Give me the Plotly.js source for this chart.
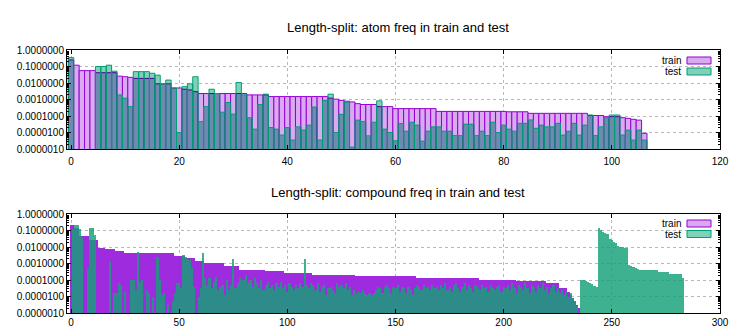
<!DOCTYPE html>
<html>
<head>
<meta charset="utf-8">
<script src="https://cdn.plot.ly/plotly-3.0.1.min.js"></script>
<style>
  html, body { margin: 0; padding: 0; background: #fff; }
  #chart { width: 734px; height: 329px; }
</style>
</head>
<body>
<div id="chart"></div>
<script>
// ---------- DATA ----------
const atomTitle = "Length-split: atom freq in train and test";
const compoundTitle = "Length-split: compound freq in train and test";
const seriesNames = ["train", "test"];
const atomXTicks = [0, 20, 40, 60, 80, 100, 120];
const compoundXTicks = [0, 50, 100, 150, 200, 250, 300];
const yTickValues = [1, 0.1, 0.01, 0.001, 0.0001, 0.00001, 0.000001];

const atomTrain = [
  0.25, 0.12, 0.056, 0.056, 0.056, 0.042, 0.042, 0.042, 0.042, 0.026,
  0.024, 0.022, 0.019, 0.019, 0.019, 0.019, 0.0089, 0.0089, 0.0089, 0.005,
  0.005, 0.0042, 0.0038, 0.003, 0.0023, 0.0023, 0.0023, 0.0023, 0.0023, 0.0023,
  0.0023, 0.0023, 0.0023, 0.0019, 0.0019, 0.0019, 0.0019, 0.0015, 0.0015, 0.0015,
  0.0015, 0.0015, 0.0015, 0.0015, 0.0015, 0.0015, 0.0015, 0.0015, 0.0012, 0.00105,
  0.00089, 0.00079, 0.00071, 0.00056, 0.0005, 0.0005, 0.0005, 0.00037, 0.00037, 0.00037,
  0.00028, 0.00028, 0.00028, 0.00028, 0.00028, 0.00028, 0.00028, 0.00028, 0.00019, 0.00019,
  0.00019, 0.00019, 0.00019, 0.00019, 0.00019, 0.00019, 0.00019, 0.00019, 0.00019, 0.00019,
  0.00019, 0.00018, 0.00018, 0.00018, 0.00018, 0.000145, 0.000145, 0.000145, 0.000145, 0.000145,
  0.000145, 0.000145, 0.000145, 0.000145, 0.000145, 0.000145, 0.000107, 0.000107, 0.000107, 0.000091,
  0.000091, 0.000091, 0.000079, 0.000072, 0.000063, 0.000056, 0.0000089
];

const atomTest = [
  0.35, null, null, null, null, 0.1, 0.1, 0.12, 0.052, 0.0019,
  0.0012, 0.00037, 0.049, 0.049, 0.049, 0.039, 0.03, 0.0089, 0.015, 0.005,
  0.00001, 0.006, 0.0089, 0.024, 0.000046, 0.00037, 0.0042, 0.0023, 0.00017, 0.00066,
  0.00013, 0.0107, 0.0019, 0.000079, 0.000016, 0.0005, 0.0021, 0.00002, 0.000016, 0.000007,
  0.00002, 0.0000035, 0.000022, 0.000014, 0.000028, 0.00035, 0.0000035, 0.00089, 0.0021, 0.00001,
  0.000126, 0.00068, 0.0000013, 0.000056, 0.000046, 0.0000063, 0.000042, 0.00083, 0.000016, 0.00001,
  0.0000032, 0.000035, 0.000012, 0.000042, 0.000028, 0.000003, 0.000012, 0.000022, 0.000022, 0.000012,
  0.000012, 0.0000065, 0.0000065, 0.000032, 0.000032, 0.0000065, 0.000012, 0.0000065, 0.000042, 0.00001,
  0.000028, 0.000016, 0.000012, 0.000036, 0.000036, 0.000058, 0.000018, 0.000028, 0.000022, 0.000022,
  0.000036, 0.000007, 0.000012, 0.000036, 0.000007, 0.000028, 0.000115, 0.0000065, 0.000022, 0.000079,
  0.000115, 0.000115, 0.000007, 0.000014, 0.0000035, 0.000014, 0.0000035
];

const compoundTrain = [
  0.22, 0.22, 0.14, 0.14, 0.045, 0.045, 0.045, 0.045, 0.045, 0.028,
  0.028, 0.028, 0.028, 0.0087, 0.0087, 0.0087, 0.0076, 0.0076, 0.0076, 0.0076,
  0.0076, 0.0055, 0.0055, 0.0055, 0.0055, 0.0044, 0.0044, 0.0044, 0.0044, 0.0044,
  0.0044, 0.0044, 0.0044, 0.0044, 0.0044, 0.0044, 0.0044, 0.0044, 0.0044, 0.0044,
  0.0044, 0.0044, 0.0044, 0.0044, 0.0044, 0.0044, 0.0044, 0.0044, 0.0027, 0.0027,
  0.0027, 0.0027, 0.0027, 0.0021, 0.0021, 0.0021, 0.0021, 0.0021, 0.00135, 0.00135,
  0.00135, 0.00135, 0.00107, 0.00107, 0.00107, 0.00107, 0.00107, 0.00107, 0.00107, 0.00107,
  0.00107, 0.00068, 0.00068, 0.00068, 0.00068, 0.00068, 0.00068, 0.00068, 0.00043, 0.00043,
  0.00043, 0.00043, 0.00043, 0.00043, 0.00043, 0.00043, 0.00043, 0.00043, 0.00043, 0.00043,
  0.00034, 0.00034, 0.00034, 0.00034, 0.00034, 0.00034, 0.00034, 0.00034, 0.00034, 0.00026,
  0.00026, 0.00026, 0.00026, 0.00026, 0.00026, 0.00026, 0.00026, 0.00026, 0.00026, 0.00026,
  0.00026, 0.00026, 0.00021, 0.00021, 0.00021, 0.00021, 0.00021, 0.00021, 0.00021, 0.00021,
  0.00021, 0.00021, 0.00021, 0.00021, 0.00021, 0.00021, 0.00021, 0.00021, 0.00021, 0.00021,
  0.00021, 0.00021, 0.000166, 0.000166, 0.000166, 0.000166, 0.000166, 0.000166, 0.000166, 0.000166,
  0.000166, 0.000166, 0.000166, 0.000166, 0.000166, 0.000166, 0.000166, 0.000166, 0.000166, 0.000166,
  0.000166, 0.000166, 0.000166, 0.000166, 0.000166, 0.000166, 0.000166, 0.000166, 0.000166, 0.000166,
  0.000132, 0.000132, 0.000132, 0.000132, 0.000132, 0.000132, 0.000132, 0.000132, 0.000132, 0.000132,
  0.000132, 0.000132, 0.000132, 0.000132, 0.000132, 0.000132, 0.000132, 0.000132, 0.000132, 0.000132,
  0.000132, 0.000132, 0.000132, 0.000132, 0.000132, 0.000132, 0.000132, 0.000132, 0.000132, 0.000105,
  0.000105, 0.000105, 0.000105, 0.000105, 0.000105, 0.000105, 0.000105, 0.000105, 0.000105, 0.000105,
  0.000105, 0.000105, 0.000105, 0.000105, 0.000105, 0.000105, 0.000089, 0.000089, 0.000089, 0.000089,
  0.000089, 0.000089, 0.000089, 0.000089, 0.000089, 0.000089, 0.000089, 0.000089, 0.000089, 0.000089,
  0.000063, 0.000063, 0.000063, 0.000063, 0.000063, 0.000063, 0.000035, 0.000035, 0.000035, 0.000035,
  0.00002, 0.0000126, 0.0000079, 0.000005, 0.0000032, 0.000002
];

const compoundTest = [
  null, 0.126, 0.22, 0.22, 0.126, 0.04, null, null, 0.0005, 0.14,
  0.14, 0.054, null, null, null, null, null, null, 0.00126, null,
  0.000016, 0.000016, 0.000063, 0.00005, null, 0.00002, null, null, 0.0001, 0.0001,
  0.000025, 0.0052, 0.000079, 0.0001, null, 0.000025, 0.000016, null, 0.00001, null,
  0.0025, 0.0001, 0.0000126, 0.000016, null, 0.0000032, null, 0.000005, 0.000016, 0.000063,
  0.000063, 0.000032, 0.0035, 0.0025, 0.002, 0.0016, 0.0005, 0.00004, null, 0.00001,
  0.000032, 0.0042, 0.000126, 0.00005, 0.000126, 0.000032, 0.000079, 0.00016, 0.000025, 0.00004,
  0.00005, 0.0000126, 0.0001, 0.000025, 0.00005, 0.002, 0.000032, 0.000063, 0.000126, 0.0001,
  0.0001, 0.0002, 0.000063, 0.0001, 0.00004, 0.000126, 0.000063, 0.000032, 0.0001, 0.000025,
  0.00005, 0.000079, 0.000032, 0.00005, 0.000025, 0.000063, 0.00004, 0.000079, 0.000032, 0.00005,
  0.00002, 0.000063, 0.00004, 0.000025, 0.00005, 0.000032, 0.000063, 0.00004, 0.002, 0.00005,
  0.000032, 0.000063, 0.00005, 0.000025, 0.000063, 0.00002, 0.00004, 0.00005, 0.0000126, 0.000032,
  0.00004, 0.000025, 0.000016, 0.000063, 0.00004, 0.00005, 0.000032, 0.000063, 0.000025, 0.00004,
  0.0000126, 0.000025, 0.000016, 0.00002, 0.000016, 0.000025, 0.000016, 0.0000126, 0.000016, 0.0000126,
  0.000016, 0.000025, 0.00004, 0.000032, 0.000016, 0.00004, 0.00005, 0.000032, 0.000016, 0.00004,
  0.000032, 0.00005, 0.00002, 0.00004, 0.000032, 0.000016, 0.00004, 0.000025, 0.0000126, 0.000032,
  0.00005, 0.00004, 0.000025, 0.00005, 0.000032, 0.00004, 0.000025, 0.00005, 0.000032, 0.00004,
  0.000025, 0.00005, 0.000032, 0.000063, 0.000025, 0.00004, 0.00002, 0.00005, 0.000063, 0.000032,
  0.00002, 0.00004, 0.000063, 0.000025, 0.00005, 0.000032, 0.00002, 0.00005, 0.00004, 0.000025,
  0.00005, 0.000032, 0.00004, 0.00002, 0.00005, 0.000032, 0.000025, 0.00004, 0.00005, 0.00002,
  0.00004, 0.000032, 0.00005, 0.000025, 0.000063, 0.000032, 0.000016, 0.00005, 0.00004, 0.000025,
  0.000063, 0.000032, 0.000016, 0.00005, 0.00004, 0.00002, 0.00005, 0.000032, 0.000063, 0.000025,
  0.00004, 0.000016, 0.000032, 0.00005, 0.00002, 0.000032, 0.000016, 0.000025, 0.0000126, 0.00002,
  0.00001, 0.000016, 0.0000079, 0.000005, 0.0000025, null, 0.0001, 0.0001, 0.000089, 0.000071,
  0.000063, 0.000056, 0.000045, 0.00004, 0.135, 0.105, 0.079, 0.071, 0.063, 0.032,
  0.028, 0.019, 0.018, 0.011, 0.0105, 0.01, 0.0089, 0.0083, 0.00079, 0.00071,
  0.00063, 0.00056, 0.00045, 0.00042, 0.00038, 0.00038, 0.00038, 0.00038, 0.00038, 0.00038,
  0.00038, 0.00038, 0.00032, 0.00032, 0.00032, 0.00032, 0.00032, 0.00022, 0.00022, 0.00022,
  0.00022, 0.00022, 0.00022, 0.000126
];

// ---------- CHART ----------
const idx = arr => arr.map((_, i) => i);
const FONT = "Liberation Sans, Arial, Helvetica, sans-serif";
const PURPLE = "#9400d3";
const GREEN = "#009e73";
const LILAC = "rgb(218,170,241)";
const MINT = "rgb(128,208,186)";

const traces = [
  // atom panel: train boxes
  { type: "bar", name: seriesNames[0], x: idx(atomTrain), y: atomTrain, xaxis: "x", yaxis: "y",
    marker: { color: LILAC, line: { color: PURPLE, width: 1 } }, hoverinfo: "skip" },
  // atom panel: test box fill (blended)
  { type: "bar", name: seriesNames[1], x: idx(atomTest), y: atomTest, xaxis: "x", yaxis: "y",
    marker: { color: MINT, line: { width: 0 } }, hoverinfo: "skip" },
  // atom panel: test box outline
  { type: "bar", name: seriesNames[1], x: idx(atomTest), y: atomTest, xaxis: "x", yaxis: "y",
    marker: { color: "rgba(0,0,0,0)", line: { color: GREEN, width: 1 } }, hoverinfo: "skip" },
  // compound panel
  { type: "bar", name: seriesNames[0], x: idx(compoundTrain), y: compoundTrain, xaxis: "x2", yaxis: "y2",
    marker: { color: "rgb(158,44,222)", line: { width: 0 } }, hoverinfo: "skip" },
  { type: "bar", name: seriesNames[1], x: idx(compoundTest), y: compoundTest, xaxis: "x2", yaxis: "y2",
    marker: { color: "rgba(20,160,120,0.82)", line: { width: 0 } }, hoverinfo: "skip" }
];

const commonX = {
  showline: true, linecolor: "#000", linewidth: 1, mirror: "ticks",
  ticks: "inside", ticklen: 4, tickcolor: "#000",
  showgrid: true, gridcolor: "#b8b8b8", griddash: "dot", gridwidth: 1,
  zeroline: false, tickfont: { family: FONT, size: 10, color: "#000" }
};
const commonY = {
  type: "log", range: [-6, 0], tickmode: "array", tickvals: yTickValues,
  ticktext: yTickValues.map(v => v.toFixed(7)),
  showline: true, linecolor: "#000", linewidth: 1, mirror: "ticks",
  ticks: "inside", ticklen: 4, tickcolor: "#000",
  showgrid: true, gridcolor: "#b8b8b8", griddash: "dot", gridwidth: 1,
  zeroline: false, tickfont: { family: FONT, size: 10, color: "#000" },
  minor: { ticks: "inside", ticklen: 2, tickcolor: "#000", dtick: "D1", showgrid: false }
};

// paper-coordinate helpers for the gnuplot-style key
const PL = 67, PW = 653, PB = 313, PH = 263;
const px = v => (v - PL) / PW;
const py = v => (PB - v) / PH;

function keyItems(trainY, testY) {
  const ann = [
    { text: seriesNames[0], x: px(683), y: py(trainY), xref: "paper", yref: "paper",
      xanchor: "right", yanchor: "middle", showarrow: false, font: { family: FONT, size: 10, color: "#000" } },
    { text: seriesNames[1], x: px(683), y: py(testY), xref: "paper", yref: "paper",
      xanchor: "right", yanchor: "middle", showarrow: false, font: { family: FONT, size: 10, color: "#000" } }
  ];
  const shp = [
    { type: "rect", xref: "paper", yref: "paper", x0: px(687), x1: px(711), y0: py(trainY + 3.5), y1: py(trainY - 3.5),
      fillcolor: LILAC, line: { color: PURPLE, width: 1 } },
    { type: "rect", xref: "paper", yref: "paper", x0: px(687), x1: px(711), y0: py(testY + 3.5), y1: py(testY - 3.5),
      fillcolor: MINT, line: { color: GREEN, width: 1 } }
  ];
  return { ann, shp };
}
const k1 = keyItems(60.5, 71.5);
const k2 = keyItems(223.5, 234);

const layout = {
  width: 734, height: 329,
  paper_bgcolor: "#fff", plot_bgcolor: "#fff",
  margin: { l: PL, r: 734 - PL - PW, t: PB - PH, b: 329 - PB, pad: 0 },
  barmode: "overlay", bargap: 0, showlegend: false,
  font: { family: FONT, size: 10, color: "#000" },
  xaxis: Object.assign({}, commonX, { domain: [0, 1], anchor: "y", range: [-0.75, 120], tickmode: "array",
    tickvals: atomXTicks, ticklabelstandoff: 3 }),
  yaxis: Object.assign({}, commonY, { domain: [py(149), 1], anchor: "x" }),
  xaxis2: Object.assign({}, commonX, { domain: [0, 1], anchor: "y2", range: [-1.85, 300], tickmode: "array",
    tickvals: compoundXTicks, ticklabelstandoff: 0 }),
  yaxis2: Object.assign({}, commonY, { domain: [0, py(214)], anchor: "x2" }),
  annotations: [
    { text: atomTitle, x: px(398), y: py(27), xref: "paper", yref: "paper", xanchor: "center", yanchor: "middle",
      showarrow: false, font: { family: FONT, size: 13, color: "#000" } },
    { text: compoundTitle, x: px(398), y: py(192), xref: "paper", yref: "paper", xanchor: "center", yanchor: "middle",
      showarrow: false, font: { family: FONT, size: 13, color: "#000" } }
  ].concat(k1.ann, k2.ann),
  shapes: k1.shp.concat(k2.shp)
};

Plotly.newPlot("chart", traces, layout, { staticPlot: true, displayModeBar: false }).then(() => {
  // gnuplot-like transparent overlap of the test box fills in the atom panel
  const tr = document.querySelectorAll(".subplot.xy .barlayer .trace");
  if (tr.length > 1) tr[1].style.mixBlendMode = "multiply";
});
</script>
</body>
</html>
